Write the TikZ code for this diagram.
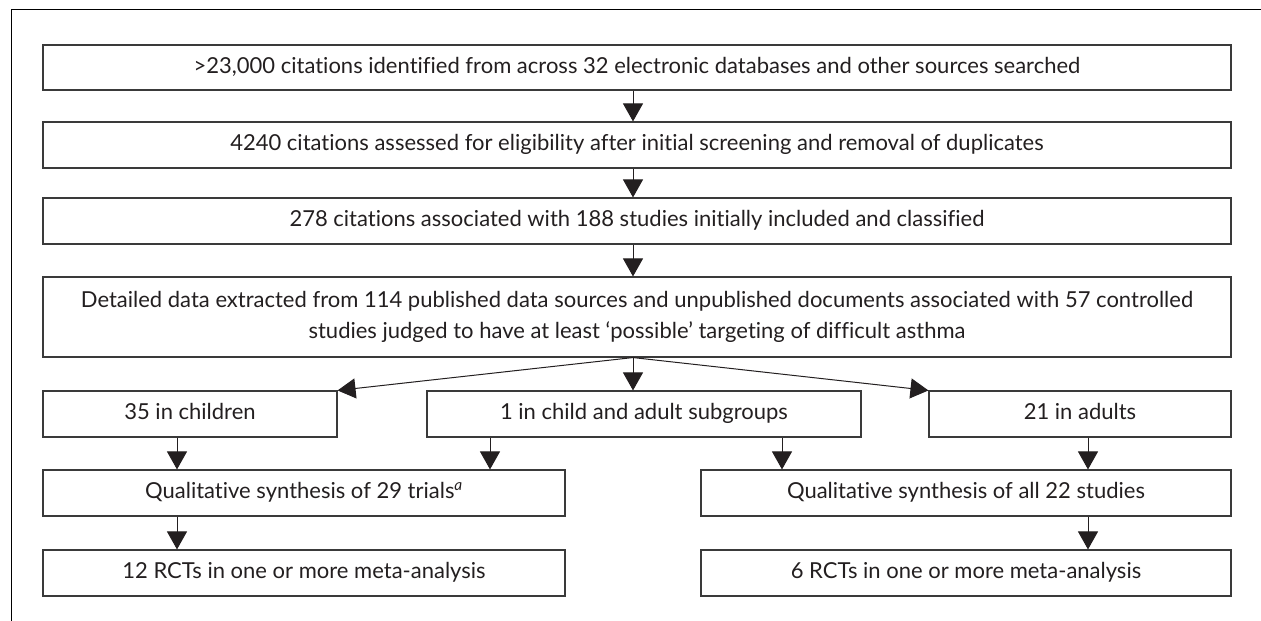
\documentclass[tikz,border=0pt]{standalone}
\usepackage{fontspec}
\setmainfont[Ligatures={NoCommon}]{Lato}
\usetikzlibrary{arrows.meta}
\definecolor{ink}{HTML}{231F20}
\definecolor{edge}{HTML}{3A3A3A}
\begin{document}
\begin{tikzpicture}[x=1pt,y=-1pt,
  box/.style={draw=edge,line width=1.1pt,minimum height=46pt,inner sep=0pt,text=ink,font=\fontsize{22}{27}\selectfont,align=center},
  one/.style={box,text height=16pt,text depth=5pt},
  arr/.style={draw=ink,line width=1pt,-{Triangle[length=18pt,width=20pt]}}]
\useasboundingbox (0,0) rectangle (1261,621);
\draw[line width=1pt] (1261,9) -- (11,9) -- (11,621);
\node[one,minimum width=1188pt,minimum height=45pt] (b1) at (637,67.5) {>23,000 citations identified from across 32 electronic databases and other sources searched};
\node[one,minimum width=1188pt] (b2) at (637,145) {4240 citations assessed for eligibility after initial screening and removal of duplicates};
\node[one,minimum width=1188pt] (b3) at (637,221) {278 citations associated with 188 studies initially included and classified};
\node[box,minimum width=1188pt,minimum height=80pt] (b4) at (637,317) {Detailed data extracted from 114 published data sources and unpublished documents associated with 57 controlled\\[4pt] studies judged to have at least ‘possible’ targeting of difficult asthma};
\node[one,minimum width=294pt] (c) at (190,414) {35 in children};
\node[one,minimum width=434pt] (m) at (644,414) {1 in child and adult subgroups};
\node[one,minimum width=302pt] (a) at (1080,414) {21 in adults};
\node[one,minimum width=522pt] (q1) at (304,493) {Qualitative synthesis of 29 trials\textsuperscript{\itshape a}};
\node[one,minimum width=530pt] (q2) at (966,493) {Qualitative synthesis of all 22 studies};
\node[one,minimum width=522pt] (r1) at (304,573) {12 RCTs in one or more meta-analysis};
\node[one,minimum width=530pt] (r2) at (966,573) {6 RCTs in one or more meta-analysis};
\coordinate (f) at ([xshift=-4]b4.south);
\draw[arr] ([xshift=-4]b1.south) -- ([xshift=-4]b2.north);
\draw[arr] ([xshift=-4]b2.south) -- ([xshift=-4]b3.north);
\draw[arr] ([xshift=-4]b3.south) -- ([xshift=-4]b4.north);
\draw[arr] (f) -- (c.north east);
\draw[arr] (f) -- (f |- m.north);
\draw[arr] (f) -- (a.north west);
\draw[arr] (m.south -| 490,0) -- (q1.north -| 490,0);
\draw[arr] (m.south -| 782,0) -- (q2.north -| 782,0);
\draw[arr] (c.south -| 177,0) -- (q1.north -| 177,0);
\draw[arr] (a.south -| 1088,0) -- (q2.north -| 1088,0);
\draw[arr] (q1.south -| 177,0) -- (r1.north -| 177,0);
\draw[arr] (q2.south -| 1088,0) -- (r2.north -| 1088,0);
\end{tikzpicture}
\end{document}
